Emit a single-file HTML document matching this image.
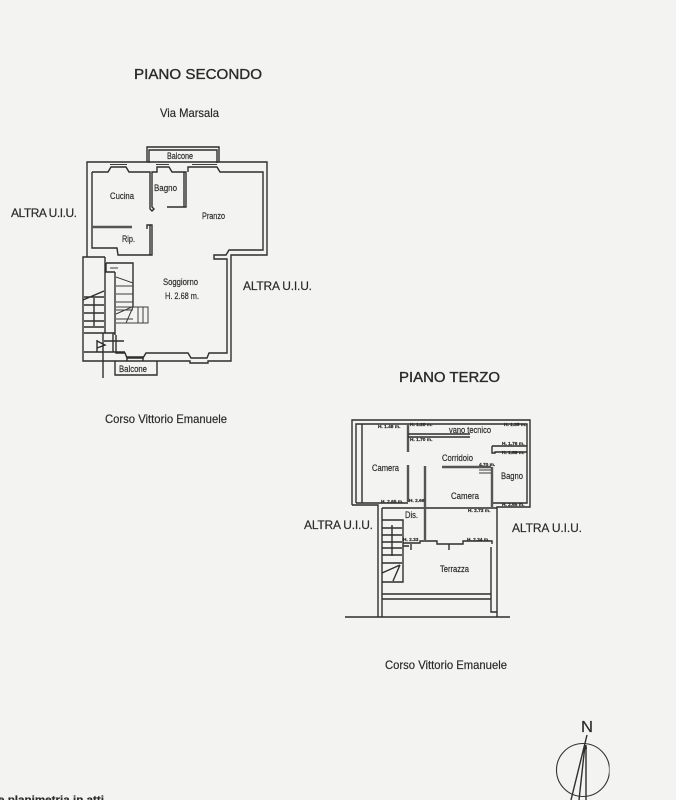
<!DOCTYPE html>
<html><head><meta charset="utf-8"><style>
html,body{margin:0;padding:0;background:#f3f3f1}
svg{display:block}
text{font-family:"Liberation Sans",sans-serif;fill:#2a2a2a;stroke:#2a2a2a;stroke-width:.18}
.w{fill:none;stroke:#2e2e2e;stroke-width:1.4}
.t{fill:none;stroke:#3c3c3c;stroke-width:1}
.g{fill:none;stroke:#555;stroke-width:2.4}
</style></head><body>
<svg width="676" height="800" viewBox="0 0 676 800" xmlns="http://www.w3.org/2000/svg">
<defs><filter id="b" x="0" y="0" width="100%" height="100%"><feGaussianBlur stdDeviation="0.35"/></filter></defs>
<rect width="676" height="800" fill="#f3f3f1"/>
<g filter="url(#b)">
<text x="134" y="79" font-size="15" textLength="128" lengthAdjust="spacingAndGlyphs" style="stroke-width:.35">PIANO SECONDO</text>
<text x="160" y="117" font-size="12" textLength="59" lengthAdjust="spacingAndGlyphs">Via Marsala</text>
<text x="11" y="217" font-size="12" textLength="66">ALTRA U.I.U.</text>
<text x="243" y="290" font-size="12" textLength="69">ALTRA U.I.U.</text>
<text x="105" y="423" font-size="12" textLength="122" lengthAdjust="spacingAndGlyphs">Corso Vittorio Emanuele</text>
<text x="399" y="382" font-size="15" textLength="101" lengthAdjust="spacingAndGlyphs" style="stroke-width:.35">PIANO TERZO</text>
<text x="304" y="529" font-size="12" textLength="69">ALTRA U.I.U.</text>
<text x="512" y="532" font-size="12" textLength="70">ALTRA U.I.U.</text>
<text x="385" y="669" font-size="12" textLength="122" lengthAdjust="spacingAndGlyphs">Corso Vittorio Emanuele</text>
<text x="-2" y="803" font-size="10.5" font-weight="bold" textLength="106" lengthAdjust="spacingAndGlyphs">e planimetria in atti</text>

<!-- Piano secondo -->
<path class="w" d="M147 162V147H219V162M149 163V150H217V163"/>
<path class="w" d="M87 257V162H267V255H231V361H208V363H190V361H83V257H105"/>
<path class="w" d="M92 172H108L111 167H126L129 172H150V209L152 211L154 209L152 207V172H157V167H169L172 172H186V207H167M184 172V207M188 172V167H217L220 172H263V250H229L226 255H214V259H227V353H209L207 358H191L188 353H146L143 358H127L125 353H116V335"/>
<path class="t" d="M110 164.500H127M156 164.500H169M192 164.500H217"/>
<path class="w" d="M92 172V248H117L118 255H152V225H147V229"/>
<path class="w" d="M150 225V255"/>
<path class="g" d="M92 227H132"/>
<path class="w" d="M105 257V333M115 272V335M106 263H133V307M106 263V272H115"/>
<path class="t" d="M110 268H118"/>
<path class="w" d="M83 300L104 291M84 297H104M84 305H104M84 313H104M84 321H104M84 327H104M94 298V326"/>
<path class="w" d="M84 333H115M84 352H125M103 333V378M97 340V352M113 333V352M97 341L105 345L97 348V341ZM104 341H124"/>
<path class="t" d="M116 277L133 283M116 286H133M116 294H133M116 302H133M116 310H133M116 319H133M116 323H148V307H116M138 307V323M143 307V323M116 314L132 307M126 323L133 307"/>
<path class="w" d="M115 361V375H157V361M127 361V357H143V361"/>
<text x="110" y="199" font-size="9" textLength="24" lengthAdjust="spacingAndGlyphs">Cucina</text>
<text x="154" y="191" font-size="9" textLength="23" lengthAdjust="spacingAndGlyphs">Bagno</text>
<text x="202" y="219" font-size="9" textLength="23" lengthAdjust="spacingAndGlyphs">Pranzo</text>
<text x="122" y="242" font-size="9" textLength="13" lengthAdjust="spacingAndGlyphs">Rip.</text>
<text x="167" y="159" font-size="9" textLength="26" lengthAdjust="spacingAndGlyphs">Balcone</text>
<text x="119" y="372" font-size="9" textLength="28" lengthAdjust="spacingAndGlyphs">Balcone</text>
<text x="163" y="285" font-size="9" textLength="35" lengthAdjust="spacingAndGlyphs">Soggiorno</text>
<text x="165" y="299" font-size="9" textLength="34" lengthAdjust="spacingAndGlyphs">H. 2.68 m.</text>

<!-- Piano terzo -->
<path class="w" d="M352 505V420H530V507H497V617M352 505H378V617M382 508V617M382 508H497"/>
<path class="w" d="M356 503V424H527V503H493M362 424V503M356 503H408"/>
<path class="g" d="M408 424V452M408 465V502M425 466V540M442 467H491M492 467V507"/>
<path class="w" d="M408 434H470M408 437H470"/>
<path class="w" d="M492 446H527M492 446V453H495V452H527"/>
<path class="t" d="M479 470H491M479 473H491"/>
<path class="w" d="M382 520H403V582H382M382 528H402M382 535H402M382 542H402M382 548H402M382 555H402M382 563H402M392 525V556M382 573L400 565M393 581L400 565"/>
<path class="w" d="M403 543H420V541H437V544H463V541H492V544M403 546H409M411 544V550M449 544V550"/>
<path class="w" d="M491 547V612H497"/>
<path class="w" d="M382 594H491M382 599H491"/>
<path class="w" d="M345 617H510" style="stroke-width:1.6"/>
<g font-size="4.8" font-weight="bold">
<text x="378" y="428">H. 1.48 m.</text><text x="410" y="426">H. 1.28 m.</text><text x="504" y="426">H. 1.35 m.</text>
<text x="410" y="441">H. 1.70 m.</text><text x="502" y="445">H. 1.76 m.</text><text x="502" y="454">H. 1.88 m.</text>
<text x="381" y="503">H. 2.65 m.</text><text x="409" y="502">H. 2.66</text><text x="502" y="506">H. 2.65 m.</text>
<text x="468" y="512">H. 2.73 m.</text><text x="403" y="541">H. 2.33</text><text x="467" y="541">H. 2.34 m.</text>
<text x="479" y="466">4.70 m.</text>
</g>
<text x="449" y="433" font-size="9" textLength="42" lengthAdjust="spacingAndGlyphs">vano tecnico</text>
<text x="442" y="461" font-size="9" textLength="31" lengthAdjust="spacingAndGlyphs">Corridoio</text>
<text x="372" y="471" font-size="9" textLength="27" lengthAdjust="spacingAndGlyphs">Camera</text>
<text x="451" y="499" font-size="9" textLength="28" lengthAdjust="spacingAndGlyphs">Camera</text>
<text x="501" y="479" font-size="9" textLength="22" lengthAdjust="spacingAndGlyphs">Bagno</text>
<text x="405" y="518" font-size="9" textLength="13" lengthAdjust="spacingAndGlyphs">Dis.</text>
<text x="440" y="572" font-size="9" textLength="29" lengthAdjust="spacingAndGlyphs">Terrazza</text>

<!-- Nord -->
<text x="581" y="732" font-size="16" textLength="12" lengthAdjust="spacingAndGlyphs">N</text>
<circle cx="583" cy="770" r="26.5" fill="none" stroke="#333" stroke-width="1.1"/>
<path class="w" d="M587 735L571 800M585 745L579 800M586 745V800M584 748H587"/>
</g>
</svg>
</body></html>
